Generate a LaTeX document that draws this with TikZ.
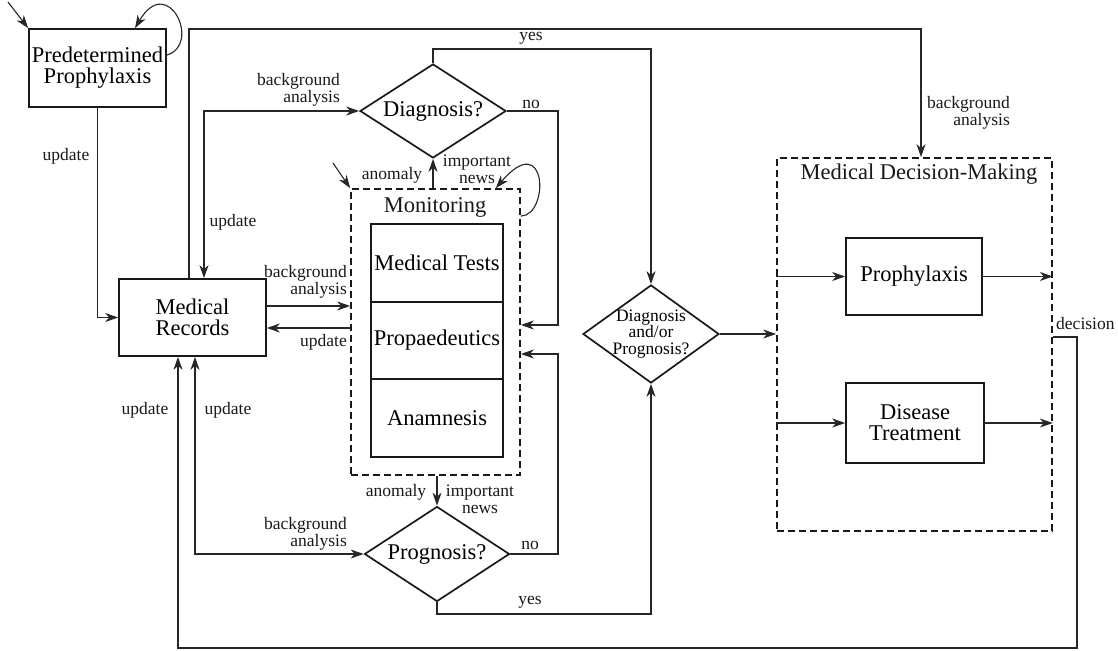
\documentclass[tikz,border=0pt]{standalone}
\usepackage{fontspec}
\setmainfont{Liberation Serif}
\usetikzlibrary{arrows.meta,shapes.geometric}

\newcommand\boxfont{\fontsize{22.5}{21}\selectfont}
\newcommand\lblfont{\fontsize{17.5}{17}\selectfont}
\newcommand\dpfont{\fontsize{17.5}{16.5}\selectfont}

\begin{document}
\begin{tikzpicture}[x=1pt,y=-1pt,
  >={Stealth[length=13pt,width=9pt,inset=4pt]},
  flow/.style={draw=black!85, line width=1.1pt},
  box/.style={draw=black!90, line width=1.7pt, inner sep=0pt, align=center, font=\boxfont},
  dbox/.style={draw=black!90, line width=1.7pt, dash pattern=on 7pt off 4pt, inner sep=0pt},
  dia/.style={diamond, draw=black!90, line width=1.7pt, inner sep=0pt},
  lbl/.style={font=\lblfont, text=black!90, inner sep=0pt, align=center},
  ttl/.style={font=\boxfont, text=black!90, inner sep=0pt}]

\useasboundingbox[fill=white] (0,0) rectangle (1118,650);

% ---------- blocks ----------
\node[box, minimum width=137pt, minimum height=78pt] (pp) at (97.5,68) {Predetermined\\Prophylaxis};
\node[box, minimum width=147pt, minimum height=77pt, font=\fontsize{22.5}{20.5}\selectfont] (mr) at (192.5,317.5) {Medical\\Records};

\node[dia, minimum width=146pt, minimum height=94pt, label={[font=\boxfont]center:Diagnosis?}] (diag) at (433,111) {};
\node[dia, minimum width=145pt, minimum height=95pt, label={[font=\boxfont]center:Prognosis?}] (prog) at (437,554) {};
\node[dia, minimum width=136pt, minimum height=98pt, label={[font=\dpfont, align=center]center:{Diagnosis\\and/or\\Prognosis?}}] (dp) at (651,334) {};

% monitoring group
\node[dbox, minimum width=169pt, minimum height=286pt] (mon) at (435.5,332) {};
\node[ttl] (montitle) at (435,207) {Monitoring};
\node[box, minimum width=132pt, minimum height=78pt] (mt) at (437,263) {Medical Tests};
\node[box, minimum width=132pt, minimum height=77pt] (prop) at (437,340.5) {Propaedeutics};
\node[box, minimum width=132pt, minimum height=78pt] (anam) at (437,418) {Anamnesis};

% decision-making group
\node[dbox, minimum width=275pt, minimum height=373pt] (mdm) at (914.5,344.5) {};
\node[ttl] (mdmtitle) at (919,174) {Medical Decision-Making};
\node[box, minimum width=136pt, minimum height=77pt] (pro) at (914,276.5) {Prophylaxis};
\node[box, minimum width=138pt, minimum height=80pt] (dt) at (915,423) {Disease\\Treatment};

% ---------- helper points ----------
\coordinate (ppin) at (8,2);
\coordinate (monin) at (333,163);
\coordinate (t1) at (189,29);
\coordinate (t2) at (921,29);
\coordinate (b1) at (204,111);
\coordinate (b2) at (195,554);
\coordinate (n1) at (558,325);
\coordinate (n2) at (558,354);
\coordinate (d1) at (1077,337);
\coordinate (d2) at (1077,648);
\coordinate (d3) at (178,648);

% ---------- connectors ----------
\draw[flow,->] (ppin) -- (pp.north west);
\draw[flow,->] ([yshift=13pt]pp.east) .. controls (202,45) and (168,-28) .. ([xshift=37.5pt]pp.north);
\draw[flow,->] (pp.south) |- (mr.west);

\draw[flow,->] (t1 |- mr.north) -- (t1) -- (t2) -- (t2 |- mdm.north);
\draw[flow,<->] (b1 |- mr.north) -- (b1) -- (diag.west);

\draw[flow,->] (mr.east |- 0,306) -- (mon.west |- 0,306);
\draw[flow,->] (mon.west |- 0,328) -- (mr.east |- 0,328);

\draw[flow,->] (monin) -- (mon.north west);
\draw[flow,->] (diag.south |- mon.north) -- (diag.south);
\draw[flow,->] ([yshift=-28pt]mon.north east) .. controls (550,215) and (547,128) .. ([xshift=-25pt]mon.north east);

\draw[flow,->] (diag.north) |- (dp.north |- 0,49) -- (dp.north);
\draw[flow,->] (diag.east) -| (n1) -- (mon.east |- n1);

\draw[flow,->] (prog.north |- mon.south) -- (prog.north);
\draw[flow,->] (prog.east) -| (n2) -- (mon.east |- n2);
\draw[flow,->] (prog.south) |- (dp.south |- 0,614) -- (dp.south);
\draw[flow,<->] (b2 |- mr.south) -- (b2) -- (prog.west);

\draw[flow,->] (dp.east) -- (mdm.west |- dp.east);
\draw[flow,->] (mdm.west |- pro.west) -- (pro.west);
\draw[flow,->] (pro.east) -- (mdm.east |- pro.east);
\draw[flow,->] (mdm.west |- dt.west) -- (dt.west);
\draw[flow,->] (dt.east) -- (mdm.east |- dt.east);
\draw[flow,->] (mdm.east |- d1) -- (d1) -- (d2) -- (d3) -- (d3 |- mr.south);

% ---------- labels ----------
\node[lbl] (l1) at (66,156) {update};
\node[lbl, anchor=east, align=right] (l2) at (340,90) {background\\analysis};
\node[lbl] (l3) at (233,222) {update};
\node[lbl, anchor=east, align=right] (l4) at (347,282) {background\\analysis};
\node[lbl, anchor=east] (l5) at (347,342) {update};
\node[lbl] (l6) at (145,410) {update};
\node[lbl] (l7) at (228,410) {update};
\node[lbl, anchor=east, align=right] (l8) at (347,534) {background\\analysis};
\node[lbl] (l9) at (392,175) {anomaly};
\node[lbl] (l10) at (477,169) {important\\news};
\node[lbl] (l11) at (396,492) {anomaly};
\node[lbl] (l12) at (480,499) {important\\news};
\node[lbl] (l13) at (531,38) {yes};
\node[lbl] (l14) at (531,104) {no};
\node[lbl] (l15) at (530,545) {no};
\node[lbl] (l16) at (530,602) {yes};
\node[lbl, anchor=east, align=right] (l17) at (1010,113) {background\\analysis};
\node[lbl, anchor=west] (l18) at (1056,324) {decision};
\end{tikzpicture}
\end{document}
